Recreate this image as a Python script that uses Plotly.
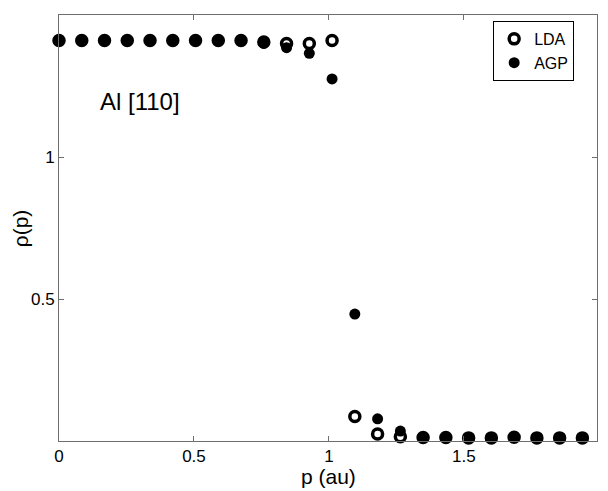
#!/usr/bin/env python
# coding: utf-8

"""
Momentum density of Al along [110]: LDA vs AGP.
"""

import plotly.graph_objects as go

# momentum grid (au)
p_values = [0.0, 0.0843, 0.1686, 0.2529, 0.3372, 0.4215, 0.5058, 0.5901,
            0.6744, 0.7587, 0.8430, 0.9273, 1.0116, 1.0959, 1.1802, 1.2645,
            1.3488, 1.4331, 1.5174, 1.6017, 1.6860, 1.7703, 1.8546, 1.9389]

rho_lda = [1.41, 1.41, 1.41, 1.41, 1.41, 1.41, 1.41, 1.41,
           1.41, 1.405, 1.40, 1.40, 1.41, 0.086, 0.025, 0.015,
           0.012, 0.012, 0.011, 0.011, 0.013, 0.011, 0.011, 0.011]

rho_agp = [1.41, 1.41, 1.41, 1.41, 1.41, 1.41, 1.41, 1.41,
           1.41, 1.40, 1.385, 1.365, 1.275, 0.447, 0.078, 0.035,
           0.012, 0.012, 0.011, 0.011, 0.014, 0.011, 0.011, 0.011]

x_ticks = [0, 0.5, 1, 1.5]
x_tick_text = ['0', '0.5', '1', '1.5']
y_ticks = [0.5, 1]
y_tick_text = ['0.5', '1']

FONT = 'Liberation Sans, Arial, sans-serif'
AXIS_COLOR = '#6e6e6e'

fig = go.Figure()

fig.add_trace(go.Scatter(
    x=p_values, y=rho_lda, name='LDA', mode='markers',
    cliponaxis=False,
    marker=dict(symbol='circle-open', size=10, color='black',
                line=dict(width=3.5, color='black'))
))

fig.add_trace(go.Scatter(
    x=p_values, y=rho_agp, name='AGP', mode='markers',
    cliponaxis=False,
    marker=dict(symbol='circle', size=11, color='black')
))

axis_common = dict(
    showgrid=False, zeroline=False, automargin=False,
    showline=True, linecolor=AXIS_COLOR, linewidth=1,
    mirror='ticks', ticks='inside', ticklen=5, tickcolor=AXIS_COLOR,
    tickfont=dict(family=FONT, size=17, color='black'),
)

fig.update_xaxes(range=[0, 1.993], tickvals=x_ticks, ticktext=x_tick_text,
                 **axis_common)
fig.update_yaxes(range=[0, 1.5], tickvals=y_ticks, ticktext=y_tick_text,
                 **axis_common)

# axis titles
fig.add_annotation(
    x=0.5, y=-0.083, xref='paper', yref='paper', text='p (au)',
    showarrow=False, xanchor='center', yanchor='middle',
    font=dict(family=FONT, size=21, color='black')
)
fig.add_annotation(
    x=-0.072, y=0.5, xref='paper', yref='paper', text='ρ(p)', textangle=-90,
    showarrow=False, xanchor='center', yanchor='middle',
    font=dict(family=FONT, size=21, color='black')
)

fig.add_annotation(
    x=0.145, y=1.195, xref='x', yref='y', text='Al [110]', showarrow=False,
    xanchor='left', font=dict(family=FONT, size=24, color='black')
)

# the page body adds an 8px offset, so the paper is sized to fit the window
fig.update_layout(
    width=600, height=483,
    margin=dict(l=51, r=11, t=7, b=50),
    plot_bgcolor='white', paper_bgcolor='white',
    font=dict(family=FONT, color='black'),
    showlegend=True,
    legend=dict(
        x=0.807, y=0.986, xanchor='left', yanchor='top',
        bgcolor='white', bordercolor='black', borderwidth=1,
        font=dict(family=FONT, size=16, color='black'),
        tracegroupgap=0, itemwidth=30,
    ),
)

fig.write_html("out.html")
